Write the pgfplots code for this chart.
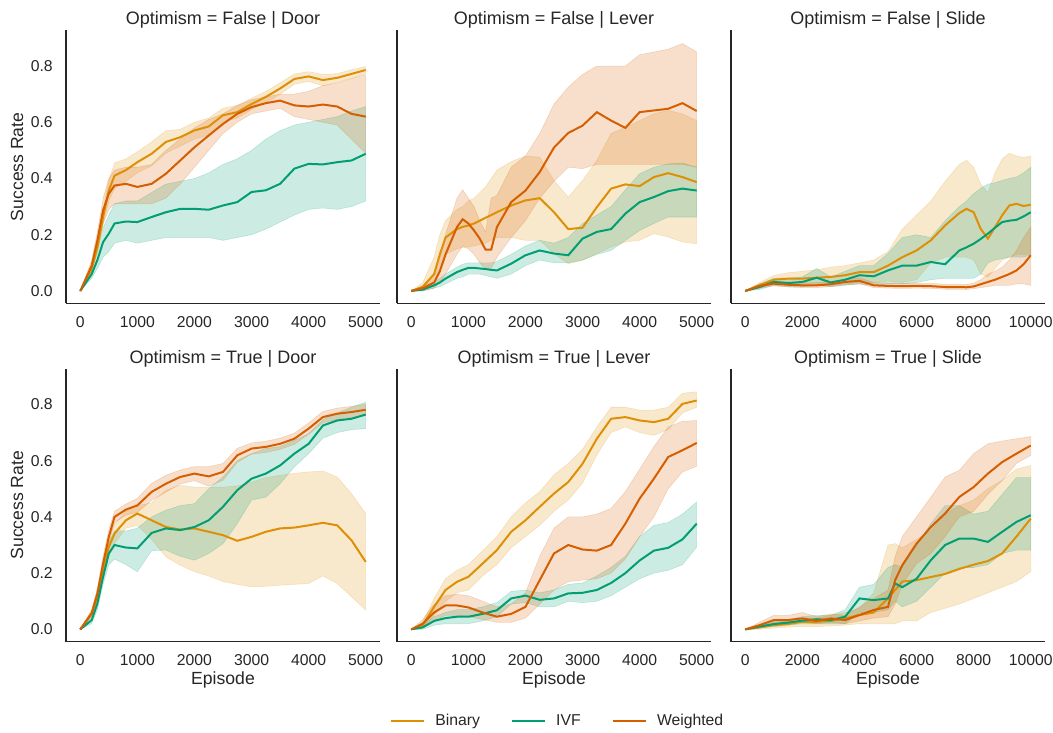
\documentclass[border=0pt]{standalone}
\usepackage{fontspec}
\setmainfont{Liberation Sans}
\usepackage{pgfplots}
\usepackage{pgfplotstable}
\pgfplotsset{compat=1.18}
\usepgfplotslibrary{fillbetween}
\definecolor{cB}{HTML}{DE8F05}
\definecolor{cI}{HTML}{029E73}
\definecolor{cW}{HTML}{D55E00}
\definecolor{txt}{HTML}{262626}

% False | Door
\pgfplotstableread{
x bm bl bh im il ih wm wl wh
0 0 0 0 0 0 0 0 0 0
200 0.08 0.07 0.09 0.06 0.045 0.075 0.09 0.07 0.11
300 0.156 0.135 0.175 0.11 0.08 0.145 0.18 0.15 0.21
400 0.263 0.235 0.29 0.174 0.12 0.225 0.287 0.24 0.33
500 0.358 0.32 0.395 0.204 0.14 0.27 0.346 0.29 0.40
600 0.41 0.365 0.455 0.24 0.17 0.31 0.375 0.31 0.43
800 0.43 0.39 0.47 0.247 0.18 0.32 0.381 0.31 0.44
1000 0.458 0.42 0.495 0.245 0.17 0.32 0.37 0.31 0.44
1250 0.488 0.445 0.53 0.263 0.18 0.35 0.381 0.31 0.45
1500 0.53 0.49 0.57 0.28 0.19 0.38 0.417 0.33 0.50
1750 0.547 0.515 0.575 0.292 0.19 0.39 0.464 0.38 0.54
2000 0.571 0.54 0.60 0.292 0.19 0.40 0.511 0.44 0.58
2250 0.585 0.555 0.615 0.289 0.19 0.42 0.553 0.50 0.61
2500 0.625 0.60 0.65 0.304 0.18 0.45 0.594 0.56 0.63
2750 0.636 0.615 0.66 0.316 0.19 0.47 0.63 0.60 0.66
3000 0.665 0.645 0.685 0.352 0.20 0.50 0.654 0.63 0.68
3250 0.69 0.67 0.71 0.358 0.22 0.54 0.668 0.64 0.69
3500 0.72 0.70 0.74 0.381 0.245 0.57 0.677 0.65 0.70
3750 0.754 0.735 0.772 0.435 0.27 0.59 0.66 0.62 0.70
4000 0.763 0.745 0.78 0.452 0.29 0.60 0.656 0.61 0.71
4250 0.75 0.73 0.77 0.45 0.295 0.61 0.663 0.60 0.73
4500 0.758 0.743 0.773 0.458 0.29 0.62 0.656 0.59 0.74
4750 0.772 0.757 0.787 0.464 0.30 0.64 0.63 0.54 0.755
5000 0.786 0.774 0.798 0.488 0.32 0.656 0.62 0.49 0.77
}\tFD

% False | Lever
\pgfplotstableread{
x bm bl bh im il ih wm wl wh
0 0 0 0 0 0 0 0 0 0
200 0.014 0 0.03 0.005 0 0.01 0.01 0 0.02
400 0.06 0.03 0.12 0.02 0.01 0.03 0.03 0.01 0.06
500 0.13 0.07 0.20 0.03 0.015 0.045 0.07 0.03 0.12
600 0.19 0.13 0.25 0.044 0.025 0.06 0.13 0.06 0.20
800 0.22 0.15 0.29 0.067 0.045 0.085 0.227 0.13 0.33
900 0.228 0.155 0.30 0.075 0.05 0.095 0.255 0.16 0.36
1000 0.233 0.156 0.32 0.082 0.06 0.10 0.24 0.15 0.33
1100 0.24 0.16 0.33 0.082 0.06 0.10 0.215 0.13 0.30
1200 0.25 0.165 0.35 0.08 0.06 0.10 0.186 0.10 0.25
1300 0.26 0.17 0.37 0.078 0.055 0.10 0.147 0.08 0.21
1400 0.27 0.18 0.40 0.075 0.05 0.10 0.147 0.08 0.33
1500 0.28 0.19 0.43 0.073 0.045 0.105 0.227 0.12 0.34
1750 0.304 0.19 0.46 0.097 0.06 0.13 0.316 0.19 0.44
2000 0.322 0.18 0.48 0.127 0.09 0.16 0.357 0.25 0.48
2250 0.33 0.18 0.476 0.144 0.11 0.18 0.423 0.33 0.56
2500 0.28 0.133 0.393 0.133 0.10 0.17 0.51 0.39 0.665
2750 0.22 0.097 0.334 0.127 0.10 0.19 0.562 0.44 0.725
3000 0.225 0.109 0.393 0.186 0.11 0.24 0.588 0.435 0.77
3250 0.298 0.133 0.464 0.21 0.13 0.27 0.636 0.45 0.80
3500 0.364 0.156 0.56 0.22 0.144 0.30 0.606 0.45 0.80
3750 0.379 0.174 0.582 0.275 0.18 0.36 0.58 0.45 0.80
4000 0.373 0.18 0.606 0.316 0.215 0.417 0.636 0.45 0.84
4250 0.405 0.204 0.63 0.334 0.24 0.44 0.642 0.45 0.85
4500 0.419 0.192 0.642 0.355 0.263 0.452 0.648 0.45 0.86
4750 0.405 0.174 0.63 0.364 0.263 0.455 0.668 0.45 0.88
5000 0.387 0.168 0.606 0.357 0.263 0.44 0.64 0.44 0.85
}\tFL

% False | Slide
\pgfplotstableread{
x bm bl bh im il ih wm wl wh
0 0 0 0 0 0 0 0 0 0
500 0.02 0.01 0.03 0.014 0.005 0.025 0.018 0.01 0.025
1000 0.04 0.025 0.055 0.032 0.02 0.045 0.026 0.018 0.035
1500 0.044 0.025 0.065 0.028 0.015 0.045 0.022 0.014 0.032
2000 0.044 0.02 0.07 0.032 0.015 0.05 0.02 0.012 0.03
2500 0.047 0.02 0.075 0.047 0.02 0.08 0.02 0.012 0.03
3000 0.05 0.02 0.085 0.03 0.015 0.05 0.024 0.015 0.034
3500 0.056 0.025 0.09 0.04 0.02 0.07 0.032 0.022 0.042
4000 0.067 0.03 0.10 0.056 0.025 0.09 0.036 0.025 0.047
4500 0.067 0.03 0.11 0.052 0.02 0.09 0.02 0.012 0.03
5000 0.09 0.035 0.14 0.073 0.025 0.133 0.018 0.01 0.028
5500 0.12 0.03 0.22 0.09 0.025 0.19 0.017 0.009 0.027
6000 0.144 0.04 0.27 0.09 0.03 0.20 0.018 0.01 0.028
6500 0.18 0.10 0.32 0.103 0.04 0.19 0.017 0.009 0.027
7000 0.233 0.12 0.39 0.095 0.045 0.25 0.014 0.006 0.024
7500 0.277 0.12 0.45 0.144 0.045 0.30 0.014 0.006 0.024
7750 0.292 0.12 0.465 0.155 0.045 0.32 0.013 0.005 0.023
8000 0.28 0.11 0.44 0.168 0.045 0.346 0.016 0.008 0.028
8250 0.22 0.06 0.38 0.185 0.06 0.365 0.024 0.012 0.04
8500 0.186 0.05 0.35 0.204 0.10 0.38 0.032 0.015 0.06
8750 0.227 0.08 0.42 0.225 0.11 0.385 0.04 0.02 0.07
9000 0.269 0.11 0.47 0.245 0.115 0.393 0.05 0.02 0.085
9250 0.304 0.12 0.49 0.25 0.12 0.40 0.06 0.02 0.11
9500 0.31 0.13 0.48 0.253 0.12 0.405 0.073 0.025 0.144
9750 0.302 0.13 0.475 0.265 0.12 0.42 0.095 0.025 0.19
10000 0.307 0.13 0.48 0.28 0.13 0.44 0.127 0.02 0.227
}\tFS

% True | Door
\pgfplotstableread{
x bm bl bh im il ih wm wl wh
0 0 0 0 0 0 0 0 0 0
200 0.057 0.045 0.07 0.033 0.02 0.045 0.057 0.047 0.067
300 0.115 0.09 0.14 0.092 0.07 0.11 0.128 0.108 0.148
400 0.21 0.18 0.24 0.187 0.16 0.22 0.234 0.21 0.26
500 0.293 0.26 0.33 0.27 0.23 0.31 0.329 0.305 0.355
600 0.341 0.305 0.375 0.30 0.25 0.35 0.40 0.38 0.42
800 0.388 0.36 0.42 0.291 0.23 0.35 0.426 0.406 0.446
1000 0.412 0.37 0.44 0.288 0.205 0.36 0.441 0.416 0.466
1250 0.388 0.32 0.45 0.343 0.28 0.40 0.489 0.459 0.519
1500 0.364 0.258 0.495 0.359 0.282 0.424 0.518 0.488 0.548
1750 0.355 0.228 0.512 0.353 0.26 0.44 0.542 0.517 0.567
2000 0.359 0.205 0.506 0.364 0.246 0.447 0.554 0.529 0.579
2250 0.347 0.19 0.506 0.388 0.27 0.50 0.544 0.509 0.579
2500 0.335 0.17 0.506 0.436 0.305 0.542 0.56 0.53 0.59
2750 0.315 0.16 0.51 0.495 0.376 0.60 0.619 0.594 0.644
3000 0.329 0.151 0.524 0.536 0.46 0.625 0.643 0.623 0.663
3250 0.347 0.153 0.54 0.554 0.47 0.643 0.649 0.629 0.669
3500 0.359 0.157 0.548 0.583 0.518 0.65 0.66 0.64 0.68
3750 0.362 0.16 0.555 0.625 0.578 0.672 0.678 0.658 0.698
4000 0.37 0.163 0.56 0.66 0.625 0.696 0.714 0.694 0.734
4250 0.379 0.19 0.563 0.725 0.68 0.745 0.755 0.735 0.775
4500 0.37 0.163 0.542 0.743 0.70 0.77 0.767 0.747 0.787
4750 0.317 0.116 0.483 0.749 0.71 0.79 0.773 0.753 0.793
5000 0.24 0.069 0.412 0.764 0.714 0.808 0.781 0.761 0.801
}\tTD

% True | Lever
\pgfplotstableread{
x bm bl bh im il ih wm wl wh
0 0 0 0 0 0 0 0 0 0
200 0.015 0.005 0.025 0.007 0 0.015 0.02 0.005 0.035
400 0.08 0.05 0.11 0.03 0.015 0.045 0.06 0.03 0.09
600 0.14 0.10 0.18 0.04 0.02 0.06 0.085 0.05 0.12
800 0.169 0.13 0.21 0.045 0.02 0.07 0.085 0.05 0.125
1000 0.187 0.14 0.23 0.045 0.02 0.07 0.078 0.045 0.12
1250 0.234 0.19 0.28 0.055 0.03 0.08 0.06 0.035 0.10
1500 0.282 0.23 0.33 0.068 0.045 0.095 0.045 0.025 0.08
1750 0.347 0.29 0.40 0.11 0.09 0.135 0.055 0.025 0.09
2000 0.388 0.33 0.45 0.12 0.095 0.14 0.08 0.04 0.13
2250 0.436 0.37 0.49 0.105 0.08 0.13 0.175 0.09 0.26
2500 0.483 0.42 0.55 0.11 0.08 0.14 0.27 0.14 0.36
2750 0.524 0.46 0.59 0.128 0.10 0.16 0.30 0.17 0.40
3000 0.589 0.52 0.64 0.13 0.095 0.165 0.284 0.175 0.40
3250 0.678 0.62 0.72 0.14 0.10 0.19 0.28 0.18 0.41
3500 0.749 0.70 0.79 0.165 0.12 0.22 0.30 0.20 0.43
3750 0.755 0.72 0.79 0.20 0.15 0.26 0.376 0.25 0.49
4000 0.743 0.70 0.78 0.245 0.18 0.33 0.465 0.33 0.57
4250 0.737 0.69 0.78 0.28 0.20 0.37 0.536 0.40 0.65
4500 0.749 0.71 0.79 0.29 0.21 0.38 0.613 0.50 0.72
4750 0.802 0.77 0.84 0.32 0.23 0.41 0.637 0.56 0.74
5000 0.814 0.79 0.845 0.376 0.293 0.453 0.663 0.58 0.743
}\tTL

% True | Slide
\pgfplotstableread{
x bm bl bh im il ih wm wl wh
0 0 0 0 0 0 0 0 0 0
500 0.007 0 0.015 0.01 0.005 0.015 0.015 0.005 0.025
1000 0.015 0.005 0.025 0.019 0.01 0.03 0.033 0.02 0.05
1500 0.019 0.008 0.03 0.024 0.015 0.035 0.033 0.02 0.05
2000 0.027 0.01 0.04 0.031 0.02 0.045 0.039 0.025 0.06
2500 0.027 0.01 0.04 0.036 0.02 0.05 0.03 0.02 0.045
3000 0.03 0.012 0.05 0.033 0.02 0.05 0.039 0.025 0.055
3500 0.039 0.015 0.06 0.045 0.02 0.07 0.033 0.02 0.05
4000 0.051 0.02 0.075 0.11 0.06 0.15 0.051 0.03 0.08
4500 0.06 0.02 0.13 0.104 0.06 0.16 0.069 0.04 0.11
5000 0.11 0.02 0.30 0.11 0.07 0.22 0.08 0.045 0.14
5250 0.14 0.02 0.305 0.163 0.10 0.23 0.175 0.09 0.26
5500 0.17 0.03 0.29 0.15 0.08 0.22 0.228 0.16 0.33
6000 0.175 0.03 0.32 0.18 0.10 0.30 0.305 0.234 0.40
6500 0.186 0.06 0.35 0.246 0.15 0.376 0.364 0.27 0.47
7000 0.197 0.075 0.41 0.30 0.20 0.44 0.412 0.33 0.542
7500 0.215 0.09 0.44 0.323 0.22 0.44 0.471 0.40 0.566
8000 0.23 0.11 0.46 0.323 0.22 0.41 0.506 0.42 0.625
8500 0.243 0.13 0.50 0.311 0.23 0.42 0.554 0.48 0.66
9000 0.27 0.15 0.53 0.347 0.27 0.48 0.595 0.53 0.67
9500 0.33 0.17 0.57 0.382 0.282 0.54 0.625 0.59 0.678
10000 0.394 0.205 0.583 0.406 0.282 0.54 0.654 0.619 0.686
}\tTS

\pgfplotsset{
  facet/.style={
    scale only axis, width=235.5pt, height=204.75pt, anchor=south west,
    axis x line*=bottom, axis y line*=left,
    axis line style={txt, line width=1.1pt, -},
    ymin=-0.044, ymax=0.927, ytick={0,0.2,0.4,0.6,0.8},
    major tick length=0pt,
    /pgf/number format/assume math mode=true,
    tick label style={font=\fontsize{11.8}{14}\selectfont, text=txt, inner sep=0pt},
    xticklabel shift=9.75pt, yticklabel shift=9.75pt,
    yticklabel style={/pgf/number format/.cd, fixed, fixed zerofill, precision=1},
    xticklabel style={/pgf/number format/1000 sep={}},
    scaled x ticks=false, scaled y ticks=false,
    title style={font=\fontsize{13.5}{16}\selectfont, text=txt, at={(axis description cs:0.5,1.042)}, anchor=center, yshift=-7pt},
    ylabel style={font=\fontsize{13.2}{15}\selectfont, text=txt, at={(axis description cs:-0.156,0.5)}, anchor=center},
    xlabel style={font=\fontsize{13.2}{15}\selectfont, text=txt, at={(axis description cs:0.5,-0.14)}, anchor=center},
  },
  short/.style={xmin=-250, xmax=5250, xtick={0,1000,2000,3000,4000,5000}},
  long/.style={xmin=-500, xmax=10500, xtick={0,2000,4000,6000,8000,10000}},
  band/.style={fill=#1, fill opacity=0.2, draw=#1, draw opacity=0.22, line width=0.4pt, forget plot},
  mean/.style={#1, line width=1.5pt},
}

\newcommand{\panel}[1]{%
  \addplot[name path=pbl, draw=none, forget plot] table[x=x, y=bl]{#1};
  \addplot[name path=pbh, draw=none, forget plot] table[x=x, y=bh]{#1};
  \addplot[name path=pil, draw=none, forget plot] table[x=x, y=il]{#1};
  \addplot[name path=pih, draw=none, forget plot] table[x=x, y=ih]{#1};
  \addplot[name path=pwl, draw=none, forget plot] table[x=x, y=wl]{#1};
  \addplot[name path=pwh, draw=none, forget plot] table[x=x, y=wh]{#1};
  \addplot[band=cB] fill between[of=pbl and pbh];
  \addplot[band=cI] fill between[of=pil and pih];
  \addplot[band=cW] fill between[of=pwl and pwh];
  \addplot[mean=cB] table[x=x, y=bm]{#1};
  \addplot[mean=cI] table[x=x, y=im]{#1};
  \addplot[mean=cW] table[x=x, y=wm]{#1};
}

\begin{document}
\begin{tikzpicture}
\path (0,0) rectangle (789.75pt,547.5pt);

\begin{axis}[facet, short, at={(49.5pt,320pt)}, title={Optimism = False | Door}, ylabel={Success Rate}]
\panel{\tFD}
\end{axis}

\begin{axis}[facet, short, at={(297.75pt,320pt)}, title={Optimism = False | Lever}, yticklabels={}]
\panel{\tFL}
\end{axis}

\begin{axis}[facet, long, at={(548.25pt,320pt)}, title={Optimism = False | Slide}, yticklabels={}]
\panel{\tFS}
\end{axis}

\begin{axis}[facet, short, at={(49.5pt,66.2pt)}, title={Optimism = True | Door}, ylabel={Success Rate}, xlabel={Episode}]
\panel{\tTD}
\end{axis}

\begin{axis}[facet, short, at={(297.75pt,66.2pt)}, title={Optimism = True | Lever}, yticklabels={}, xlabel={Episode},
  legend style={at={(0.513,-0.289)}, anchor=center, legend columns=3, draw=none, fill=none,
    font=\fontsize{11.8}{14}\selectfont, text=txt,
    /tikz/every odd column/.append style={column sep=5.5pt},
    /tikz/every even column/.append style={column sep=21.5pt}},
  legend image code/.code={\draw[#1, line width=1.5pt] (0pt,0pt) -- (24.75pt,0pt);}]
\panel{\tTL}
\legend{Binary, IVF, Weighted}
\end{axis}

\begin{axis}[facet, long, at={(548.25pt,66.2pt)}, title={Optimism = True | Slide}, yticklabels={}, xlabel={Episode}]
\panel{\tTS}
\end{axis}

\end{tikzpicture}
\end{document}
